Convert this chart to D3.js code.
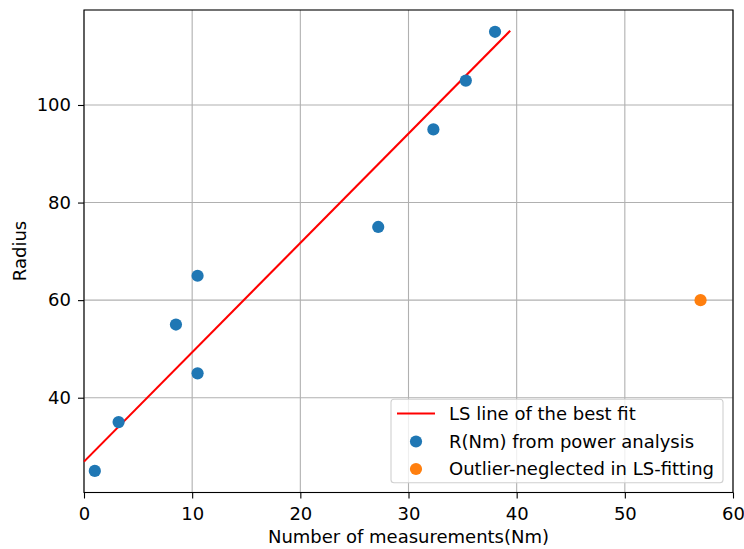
<!DOCTYPE html>
<html>
<head>
<meta charset="utf-8">
<script src="https://cdn.jsdelivr.net/npm/d3@7"></script>
<style>
  body { margin: 0; background: #fff; }
  text { font-family: "DejaVu Sans", sans-serif; fill: #000; }
</style>
</head>
<body>
<svg id="chart" width="744" height="549"></svg>
<script>
// measurements vs radius
const measX = [1, 3.2, 8.5, 10.5, 10.5, 27.2, 32.3, 35.3, 38];
const radiusY = [25, 35, 55, 65, 45, 75, 95, 105, 115];
const outlierX = [57];
const outlierY = [60];
// least squares line endpoints
const fitX = [0, 39.4];
const fitY = [26.9, 115.2];
const xTicks = [0, 10, 20, 30, 40, 50, 60];
const yTicks = [40, 60, 80, 100];
const legendLabels = ["LS line of the best fit", "R(Nm) from power analysis", "Outlier-neglected in LS-fitting"];

const svg = d3.select("#chart");
const plot = {left: 84, right: 733, top: 10, bottom: 492.5};
const fs = 18;

let x = d3.scaleLinear().domain([0, 60]).range([plot.left, plot.right]);
let y = d3.scaleLinear().domain([20.57, 119.47]).range([plot.bottom, plot.top]);

// grid
svg.append("g").selectAll("line").data(xTicks).enter().append("line")
    .attr("x1", d => x(d)).attr("x2", d => x(d))
    .attr("y1", plot.top).attr("y2", plot.bottom)
    .attr("stroke", "#b0b0b0").attr("stroke-width", 1.1);
svg.append("g").selectAll("line").data(yTicks).enter().append("line")
    .attr("x1", plot.left).attr("x2", plot.right)
    .attr("y1", d => y(d)).attr("y2", d => y(d))
    .attr("stroke", "#b0b0b0").attr("stroke-width", 1.1);

// axes
let xAxis = d3.axisBottom(x).tickValues(xTicks).tickSize(6).tickPadding(8.5);
let gx = svg.append("g").attr("transform", "translate(0," + plot.bottom + ")").call(xAxis);
let yAxis = d3.axisLeft(y).tickValues(yTicks).tickSize(6).tickPadding(7);
let gy = svg.append("g").attr("transform", "translate(" + plot.left + ",0)").call(yAxis);
[gx, gy].forEach(g => {
    g.select(".domain").remove();
    g.selectAll("line").attr("stroke", "#000").attr("stroke-width", 1.1);
    g.selectAll("text").attr("font-size", fs).attr("font-family", "DejaVu Sans").attr("fill", "#000");
});

// frame
svg.append("rect").attr("x", plot.left).attr("y", plot.top)
    .attr("width", plot.right - plot.left).attr("height", plot.bottom - plot.top)
    .attr("fill", "none").attr("stroke", "#000").attr("stroke-width", 1.1);

// fit line
svg.append("line")
    .attr("x1", x(fitX[0])).attr("y1", y(fitY[0]))
    .attr("x2", x(fitX[1])).attr("y2", y(fitY[1]))
    .attr("stroke", "red").attr("stroke-width", 2.1);

// points
svg.append("g").selectAll("circle").data(measX).enter().append("circle")
    .attr("cx", d => x(d)).attr("cy", (d, i) => y(radiusY[i]))
    .attr("r", 6.1).attr("fill", "#1f77b4");
svg.append("g").selectAll("circle").data(outlierX).enter().append("circle")
    .attr("cx", d => x(d)).attr("cy", (d, i) => y(outlierY[i]))
    .attr("r", 6.1).attr("fill", "#ff7f0e");

// labels
svg.append("text").attr("x", (plot.left + plot.right) / 2).attr("y", 543.3)
    .attr("text-anchor", "middle").attr("font-size", fs)
    .text("Number of measurements(Nm)");
svg.append("text").attr("transform", "translate(26,251) rotate(-90)")
    .attr("text-anchor", "middle").attr("font-size", fs)
    .text("Radius");

// legend
let lg = svg.append("g");
lg.append("rect").attr("x", 391).attr("y", 399.3).attr("width", 332).attr("height", 83.5)
    .attr("rx", 3).attr("fill", "#fff").attr("fill-opacity", 0.8)
    .attr("stroke", "#d0d0d0").attr("stroke-width", 1.1);
lg.append("line").attr("x1", 397).attr("x2", 435).attr("y1", 413.5).attr("y2", 413.5)
    .attr("stroke", "red").attr("stroke-width", 2.1);
lg.append("circle").attr("cx", 416).attr("cy", 441.5).attr("r", 6.1).attr("fill", "#1f77b4");
lg.append("circle").attr("cx", 416).attr("cy", 469).attr("r", 6.1).attr("fill", "#ff7f0e");
lg.selectAll("text.lbl").data(legendLabels).enter().append("text")
    .attr("class", "lbl")
    .attr("x", 449).attr("y", (d, i) => 413.5 + i * 27.8)
    .attr("dy", "0.35em").attr("font-size", fs)
    .text(d => d);
</script>
</body>
</html>
